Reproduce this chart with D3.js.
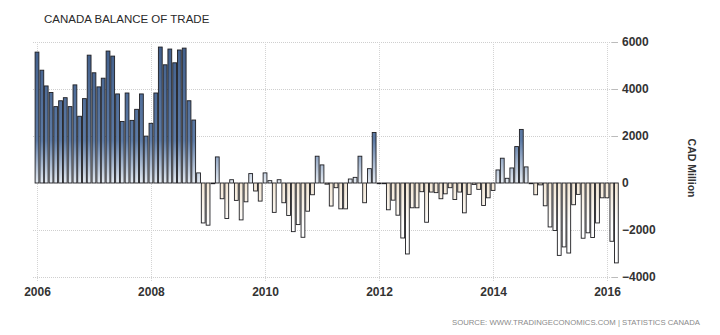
<!DOCTYPE html>
<html>
<head>
<meta charset="utf-8">
<script src="https://cdn.jsdelivr.net/npm/d3@7/dist/d3.min.js"></script>
<style>
  html, body { margin: 0; padding: 0; background: #fff; }
  svg { display: block; }
  text { font-family: "Liberation Sans Narrow", "Liberation Sans", Arial, sans-serif; }
</style>
</head>
<body>
<svg id="chart" width="720" height="335"></svg>
<script>
// ---- Data (CAD million, monthly, Jan 2006 .. Mar 2016) ----
const startYear = 2006;
const values2006 = [5570, 4800, 4130, 3850, 3250, 3500, 3630, 3250, 4175, 2840, 3590, 5440];
const values2007 = [4690, 4090, 4460, 5615, 5400, 3790, 2620, 3830, 2665, 3135, 3790, 1995];
const values2008 = [2540, 3830, 5785, 5030, 5700, 5115, 5660, 5740, 3500, 2680, 430, -1700];
const values2009 = [-1795, -30, 1110, -670, -1510, 140, -740, -1570, -800, 400, -340, -770];
const values2010 = [430, 100, -1250, 140, -840, -1380, -2070, -1770, -2310, -1200, -500, 1140];
const values2011 = [770, -50, -980, -200, -1100, -1100, 170, 240, 1140, -840, 610, 2150];
const values2012 = [-30, -30, -1140, -730, -1370, -2340, -3020, -1055, -1055, -370, -1670, -385];
const values2013 = [-410, -670, -460, -200, -700, -385, -1270, -485, -60, -270, -955, -630];
const values2014 = [-315, 555, 1055, 200, 640, 1550, 2280, 685, -30, -500, -80, -970];
const values2015 = [-1870, -2020, -3080, -2720, -2980, -925, -485, -2350, -2120, -2320, -1700, -630];
const values2016 = [-630, -2480, -3400];
const yTicks = [6000, 4000, 2000, 0, -2000, -4000];
const xTickYears = [2006, 2008, 2010, 2012, 2014, 2016];
const titleText = "CANADA BALANCE OF TRADE";
const unitText = "CAD Million";
const sourceText = "SOURCE: WWW.TRADINGECONOMICS.COM | STATISTICS CANADA";

const allValues = [].concat(values2006, values2007, values2008, values2009, values2010,
  values2011, values2012, values2013, values2014, values2015, values2016);
const data = allValues.map((v, i) => ({ date: new Date(startYear, i, 1), value: v }));

// ---- Layout ----
const svg = d3.select("#chart");
const plotLeft = 33, plotRight = 612, gridTop = 42, gridBottom = 277;
const fontNarrow = "'Liberation Sans Narrow', 'Liberation Sans', Arial, sans-serif";

const x = d3.scaleTime()
  .domain([new Date(2006, 0, 1), new Date(2016, 0, 1)])
  .range([37, 607]);
const y = d3.scaleLinear().domain([-4000, 6000]).range([277, 42]);

const defs = svg.append("defs");
const gPos = defs.append("linearGradient").attr("id", "gpos")
  .attr("gradientUnits", "userSpaceOnUse")
  .attr("x1", 0).attr("x2", 0).attr("y1", y(0)).attr("y2", y(6000));
gPos.append("stop").attr("offset", 0).attr("stop-color", "#e6ecf3");
gPos.append("stop").attr("offset", 0.3).attr("stop-color", "#5d7ba6");
gPos.append("stop").attr("offset", 1).attr("stop-color", "#415e8a");
const gNeg = defs.append("linearGradient").attr("id", "gneg")
  .attr("gradientUnits", "userSpaceOnUse")
  .attr("x1", 0).attr("x2", 0).attr("y1", y(0)).attr("y2", y(-4000));
gNeg.append("stop").attr("offset", 0).attr("stop-color", "#f2e6d4");
gNeg.append("stop").attr("offset", 0.45).attr("stop-color", "#ffffff");
gNeg.append("stop").attr("offset", 1).attr("stop-color", "#ffffff");

// ---- Grid ----
const grid = svg.append("g");
grid.selectAll("line.h").data(yTicks.filter(d => d !== 0)).join("line")
  .attr("x1", plotLeft).attr("x2", plotRight)
  .attr("y1", d => Math.round(y(d)) + 0.5).attr("y2", d => Math.round(y(d)) + 0.5)
  .attr("stroke", "#cfcfcf").attr("stroke-width", 1).attr("stroke-dasharray", "1,1");
grid.selectAll("line.v").data(xTickYears).join("line")
  .attr("x1", d => Math.round(x(new Date(d, 0, 1))) + 0.5)
  .attr("x2", d => Math.round(x(new Date(d, 0, 1))) + 0.5)
  .attr("y1", gridTop).attr("y2", gridBottom + 4)
  .attr("stroke", "#d4d4d4").attr("stroke-width", 1).attr("stroke-dasharray", "1,1");

// ---- Right axis ----
const yAxis = d3.axisRight(y).tickValues(yTicks).tickSize(6).tickPadding(4)
  .tickFormat(d3.format("d"));
const ya = svg.append("g").attr("transform", `translate(${plotRight},0)`).call(yAxis);
ya.select(".domain").remove();
ya.selectAll(".tick line").attr("stroke", "#bbb");
ya.selectAll(".tick text").attr("fill", "#333").attr("font-size", "12px")
  .attr("font-weight", "bold").attr("font-family", fontNarrow);

// ---- Bottom axis ----
const xAxis = d3.axisBottom(x).tickValues(xTickYears.map(d => new Date(d, 0, 1)))
  .tickSize(0).tickPadding(0).tickFormat(d3.timeFormat("%Y"));
const xa = svg.append("g").attr("transform", `translate(0,${gridBottom})`).call(xAxis);
xa.select(".domain").remove();
xa.selectAll(".tick text").attr("fill", "#333").attr("font-size", "12px")
  .attr("font-weight", "bold").attr("dy", null).attr("y", 19)
  .attr("font-family", fontNarrow);

// ---- Bars ----
const barW = 3.8;
svg.append("g").selectAll("rect").data(data).join("rect")
  .attr("x", d => x(d.date) - barW / 2)
  .attr("width", barW)
  .attr("y", d => d.value >= 0 ? y(d.value) : y(0))
  .attr("height", d => Math.max(0.6, Math.abs(y(d.value) - y(0))))
  .attr("fill", d => d.value >= 0 ? "url(#gpos)" : "url(#gneg)")
  .attr("stroke", "#1e1e22").attr("stroke-width", 0.9);

// ---- Texts ----
svg.append("text").attr("x", 44).attr("y", 22.5)
  .attr("font-size", "11.5px").attr("fill", "#2a2a2a").text(titleText);
svg.append("text")
  .attr("transform", "translate(688,168) rotate(90)")
  .attr("text-anchor", "middle").attr("font-size", "10.5px").attr("font-weight", "bold")
  .attr("fill", "#333").text(unitText);
svg.append("text").attr("x", 700).attr("y", 325).attr("text-anchor", "end")
  .attr("font-size", "8px").attr("fill", "#8a8a8a")
  .attr("textLength", 248).attr("lengthAdjust", "spacingAndGlyphs")
  .text(sourceText);
</script>
</body>
</html>
